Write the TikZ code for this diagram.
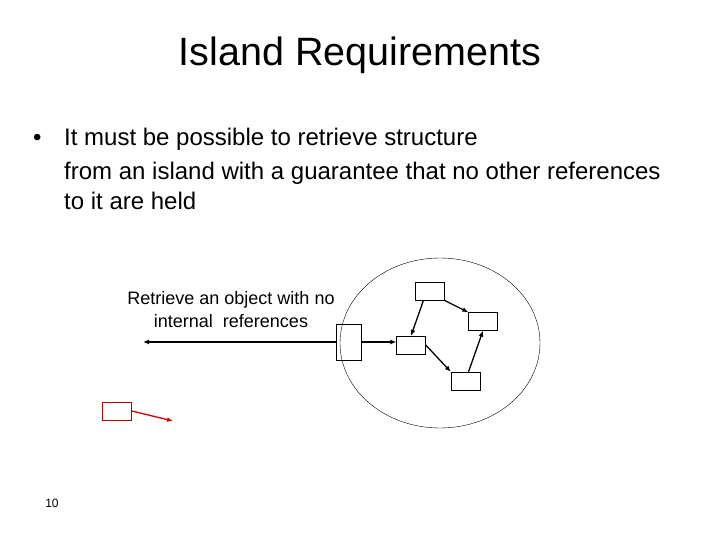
\documentclass[tikz,border=0pt]{standalone}
\usepackage{fontspec}
\setmainfont{Liberation Sans}
\usetikzlibrary{arrows.meta,shapes.geometric}
\begin{document}
\begin{tikzpicture}[x=1pt,y=-1pt,
  obj/.style={draw,minimum width=29pt,minimum height=18pt,inner sep=0pt},
  ref/.style={line width=1.3pt,-{Latex[length=6pt,width=5pt]}},
  txt/.style={inner sep=0pt,anchor=base west}]
\useasboundingbox (0,0) rectangle (720,540);
\node[font=\fontsize{39.5}{44}\selectfont] (title) at (360,55) {Island Requirements};
\node[txt,font=\fontsize{24}{28}\selectfont] (b0) at (33,146) {•};
\node[txt,font=\fontsize{24}{28}\selectfont] (b1) at (64,146) {It must be possible to retrieve structure};
\node[txt,font=\fontsize{24}{28}\selectfont] (b2) at (64,180) {from an island with a guarantee that no other references};
\node[txt,font=\fontsize{24}{28}\selectfont] (b3) at (64,210) {to it are held};
\node[draw,ellipse,minimum width=200pt,minimum height=170pt,inner sep=0pt] (isl) at (440,343) {};
\node[font=\fontsize{18}{23}\selectfont,align=center] (lab) at (231,310) {Retrieve an object with no\\internal\ \ references};
\node[obj,minimum width=25pt,minimum height=36pt] (T) at (348.5,342) {};
\node[obj] (A) at (429.5,291) {};
\node[obj] (B) at (483,321.5) {};
\node[obj] (C) at (411,345) {};
\node[obj] (D) at (465.5,381) {};
\node[obj,draw=red!70!black] (R) at (117,411) {};
\coordinate (L) at (143,342);
\draw[ref] (T.west) -- (L);
\draw[ref] (T.east) -- (C.west|-T.east);
\draw[ref] (A.south) ++(-6,0) -- (C.north);
\draw[ref] (A.south east) -- (B.north west);
\draw[ref] (C.east) -- (D.north west);
\draw[ref] (D.north) ++(3,0) -- (B.south);
\coordinate (Re) at (173,421);
\draw[line width=1.3pt,red!85!black,-{Latex[length=6pt,width=5pt]}] (R.east) -- (Re);
\node[font=\fontsize{12}{14}\selectfont] (pg) at (52,503) {10};
\end{tikzpicture}
\end{document}
